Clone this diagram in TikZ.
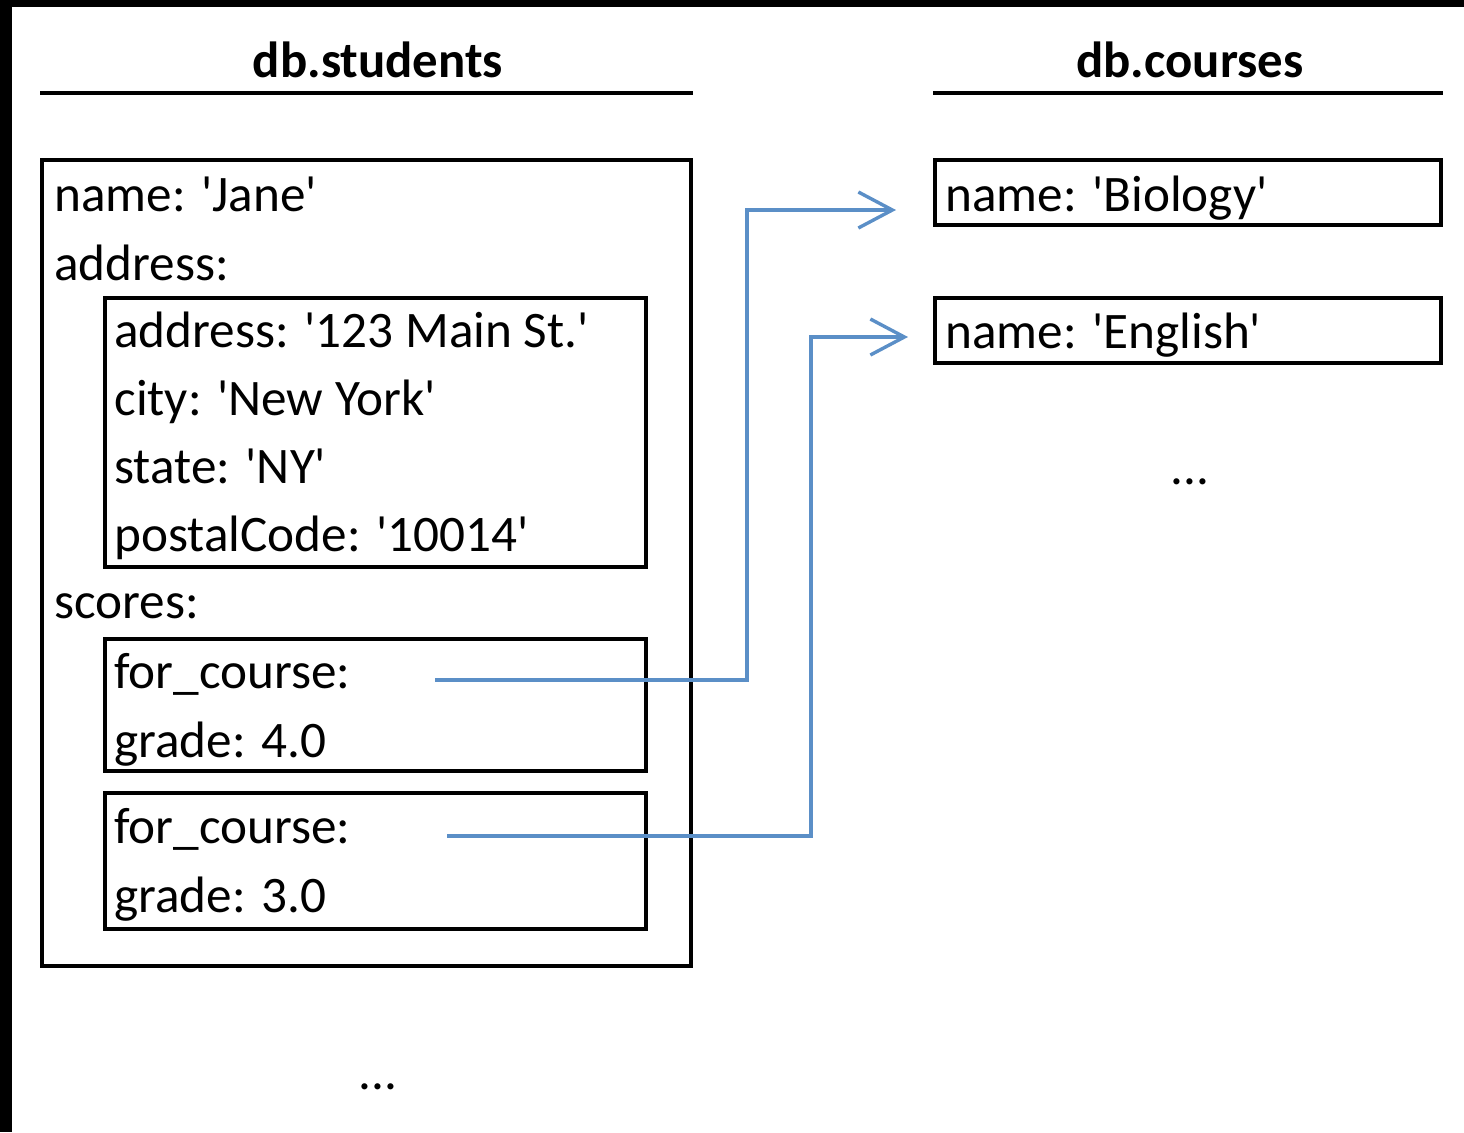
\documentclass[tikz,border=0pt]{standalone}
\usepackage{fontspec}
\setmainfont{Carlito}
\usetikzlibrary{arrows.meta,calc,fit}
\definecolor{linkblue}{RGB}{91,143,199}
\newcommand\sq{\textquotesingle}
\tikzset{
  box/.style={draw,line width=2pt,inner sep=0pt},
  txt/.style={anchor=base west,inner sep=0pt,font=\fontsize{25.6}{30}\selectfont},
  heading/.style={anchor=base,inner sep=0pt,font=\fontsize{25.4}{30}\selectfont\bfseries},
  link/.style={draw=linkblue,line width=1.7pt,-{Straight Barb[length=17pt,width=18pt,line width=1.7pt]}}
}
\begin{document}
\begin{tikzpicture}[x=0.5pt,y=-0.5pt]
\useasboundingbox (0,0) rectangle (1464,1132);
\fill (0,0) rectangle (1464,1132);
\fill[white] (12,7) rectangle (1464,1132);
% headings
\node[heading] (studhead) at (378,77) {db.students};
\node[heading] (coursehead) at (1190,77) {db.courses};
\draw[line width=2pt] (40,93) -- (693,93) (933,93) -- (1443,93);
% student document
\node[box,fit={(42,160)(691,966)}] (jane) {};
\node[txt] (name) at (54,211) {name: \sq Jane\sq};
\node[txt] (addr) at (54,280) {address:};
\node[box,fit={(105,298)(646,567)}] (addrbox) {};
\node[txt] (street) at (114,347) {address: \sq 123 Main St.\sq};
\node[txt] (city) at (114,415) {city: \sq New York\sq};
\node[txt] (state) at (114,483) {state: \sq NY\sq};
\node[txt] (zip) at (114,551) {postalCode: \sq 10014\sq};
\node[txt] (scores) at (54,618) {scores:};
\node[box,fit={(105,639)(646,771)}] (score1) {};
\node[txt] (course1) at (114,688) {for\_course:};
\node[txt] (grade1) at (114,757) {grade: 4.0};
\node[box,fit={(105,793)(646,929)}] (score2) {};
\node[txt] (course2) at (114,843) {for\_course:};
\node[txt] (grade2) at (114,912) {grade: 3.0};
\node[txt,anchor=base] (moreStud) at (378,1089) {...};
% course documents
\node[box,fit={(935,160)(1441,225)}] (bio) {};
\node[txt] (bioname) at (945,211) {name: \sq Biology\sq};
\node[box,fit={(935,298)(1441,363)}] (eng) {};
\node[txt] (engname) at (945,348) {name: \sq English\sq};
\node[txt,anchor=base] (moreCourse) at (1190,484) {...};
% references
\coordinate (ref1) at (435,680);
\coordinate (ref2) at (447,836);
\draw[link] (ref1) -- ++(312,0) |- ($(bio.west)+(-37,17.5)$);
\draw[link] (ref2) -- ++(364,0) |- ($(eng.west)+(-25,6.5)$);
\end{tikzpicture}
\end{document}
